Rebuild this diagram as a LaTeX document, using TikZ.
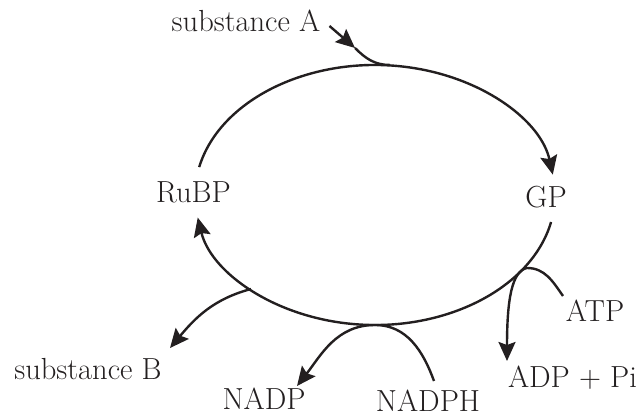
\documentclass[tikz,border=0pt]{standalone}
\usepackage{tikz}
\usetikzlibrary{arrows.meta}

\definecolor{ink}{RGB}{35,31,32}

\begin{document}
\begin{tikzpicture}[
    x=1pt, y=1pt,
    line width=2.4pt,
    color=ink,
    txt/.style={font=\fontsize{30.5}{34}\selectfont, inner sep=0pt},
    arr/.style={-{Stealth[length=19pt,width=17pt,inset=3pt]}}
]

\useasboundingbox (0,0) rectangle (639,419);

\node[txt] (subA) at (246,398) {substance A};
\node[txt] (rubp) at (193.5,227) {RuBP};
\node[txt] (gp) at (546,222) {GP};
\node[txt] (atp) at (595,108) {ATP};
\node[txt] (adp) at (572.5,41) {ADP + Pi};
\node[txt] (subB) at (88,50) {substance B};
\node[txt] (nadp) at (264,20) {NADP};
\node[txt] (nadph) at (428,18) {NADPH};

\coordinate (c) at (375,224);
\coordinate (aMid) at (355,371);
\coordinate (aTop) at (390,354);
\coordinate (atpOut) at (527,151);
\coordinate (atpIn) at (563,123);
\coordinate (adpTip) at (507,58);
\coordinate (nBot) at (375,94);
\coordinate (nphIn) at (434,38);
\coordinate (npTip) at (297,33);
\coordinate (bOut) at (251,130);
\coordinate (bTip) at (170,71);

% the cycle
\draw[arr] (c) ++(167.6:180 and 130)
    arc[start angle=167.6, end angle=9, x radius=180, y radius=130];
\draw[arr] (c) ++(-12:180 and 130)
    arc[start angle=-12, end angle=-170, x radius=180, y radius=130];

\draw[arr] ([xshift=8pt,yshift=-5pt]subA.east) -- (aMid);
\draw (aMid) to[out=-45,in=180] (aTop);

\draw[arr] (atpIn) to[out=125,in=0] (atpOut)
    .. controls (512,148) and (507,120) .. (adpTip);

\draw[arr] (nphIn) to[out=110,in=0] (nBot) to[out=180,in=52] (npTip);

\draw[arr] (bOut) to[out=195,in=50] (bTip);

\end{tikzpicture}
\end{document}
